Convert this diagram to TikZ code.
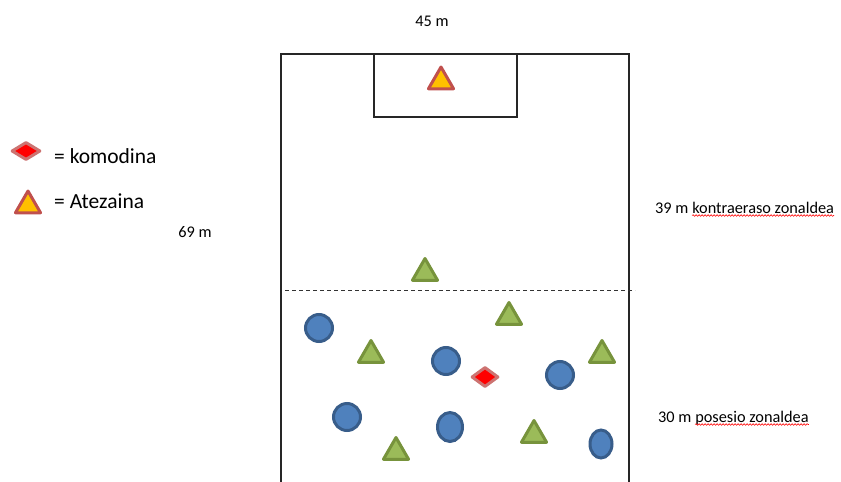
\documentclass[tikz,border=0pt]{standalone}
\usepackage{fontspec}
\setmainfont{Carlito}
\usetikzlibrary{shapes.geometric,decorations.pathmorphing}
\definecolor{bluefill}{HTML}{4F81BD}
\definecolor{blueline}{HTML}{385D8A}
\definecolor{greenfill}{HTML}{9BBB59}
\definecolor{greenline}{HTML}{77933C}
\definecolor{keeperfill}{HTML}{FFC000}
\definecolor{redline}{HTML}{C0504D}
\tikzset{
  player/.style={circle,draw=blueline,fill=bluefill,line width=3pt,minimum size=27pt,inner sep=0pt},
  playeroval/.style={ellipse,draw=blueline,fill=bluefill,line width=3pt,inner sep=0pt},
  attacker/.style={regular polygon,regular polygon sides=3,draw=greenline,fill=greenfill,line width=3pt,line join=round,minimum size=29pt,inner sep=0pt},
  keeper/.style={regular polygon,regular polygon sides=3,draw=redline,fill=keeperfill,line width=3pt,line join=round,minimum size=29pt,inner sep=0pt},
  joker/.style={diamond,draw=redline!80,fill=red,line width=3pt,line join=round,inner sep=0pt},
  lbl/.style={inner sep=0pt,font=\fontsize{16.3}{18}\selectfont},
  legendlbl/.style={inner sep=0pt,font=\fontsize{21.5}{24}\selectfont},
  spell/.style={red,line width=0.6pt,decorate,decoration={snake,amplitude=0.8pt,segment length=3pt}}
}
\begin{document}
\begin{tikzpicture}[x=1pt,y=-1pt]
  \useasboundingbox (0,0) rectangle (841,482);

  \coordinate (fieldBL) at (281,482);
  \coordinate (fieldTL) at (281,54);
  \coordinate (fieldTR) at (629,54);
  \coordinate (fieldBR) at (629,482);
  \draw[line width=1.2pt,black!85] (fieldBL) -- (fieldTL) -- (fieldTR) -- (fieldBR);
  \draw[line width=1.2pt,black!85] (374,54) rectangle (517,117);

  \coordinate (zoneL) at (285,290);
  \coordinate (zoneR) at (635,290);
  \draw[line width=0.9pt,black!80,dash pattern=on 4pt off 3pt] (zoneL) -- (zoneR);

  \node[keeper] (gk) at (441,81.5) {};

  \node[attacker] (a1) at (425,273) {};
  \node[attacker] (a2) at (509,317) {};
  \node[attacker] (a3) at (371,355) {};
  \node[attacker] (a4) at (602,355) {};
  \node[attacker] (a5) at (534,435) {};
  \node[attacker] (a6) at (396,452) {};

  \node[player] (d1) at (319,328) {};
  \node[player] (d2) at (446,361) {};
  \node[player] (d3) at (560,375) {};
  \node[player] (d4) at (347,417) {};
  \node[playeroval,minimum width=25pt,minimum height=29pt] (d5) at (450,427) {};
  \node[playeroval,minimum width=22pt,minimum height=28pt] (d6) at (601,444) {};

  \node[joker,minimum width=27pt,minimum height=20pt] (jk) at (485,377) {};

  \node[joker,minimum width=29pt,minimum height=18pt] (legjk) at (26,151) {};
  \node[keeper] (leggk) at (28,205.5) {};
  \node[legendlbl,anchor=base west] (legjktxt) at (54,163) {= komodina};
  \node[legendlbl,anchor=base west] (leggktxt) at (54,208) {= Atezaina};

  \node[lbl,anchor=base] (width) at (432,26) {45 m};
  \node[lbl,anchor=base] (length) at (195,237) {69 m};

  \node[lbl,anchor=base west] (top) at (655,213) {39 m};
  \node[lbl,anchor=base west] (topname) at ([xshift=3.5pt]top.base east) {kontraeraso zonaldea};
  \draw[spell] ([yshift=-2.5pt]topname.base west) -- ([yshift=-2.5pt]topname.base east);

  \node[lbl,anchor=base west] (bottom) at (658,422) {30 m};
  \node[lbl,anchor=base west] (bottomname) at ([xshift=3.5pt]bottom.base east) {posesio zonaldea};
  \draw[spell] ([yshift=-2.5pt]bottomname.base west) -- ([yshift=-2.5pt]bottomname.base east);
\end{tikzpicture}
\end{document}
